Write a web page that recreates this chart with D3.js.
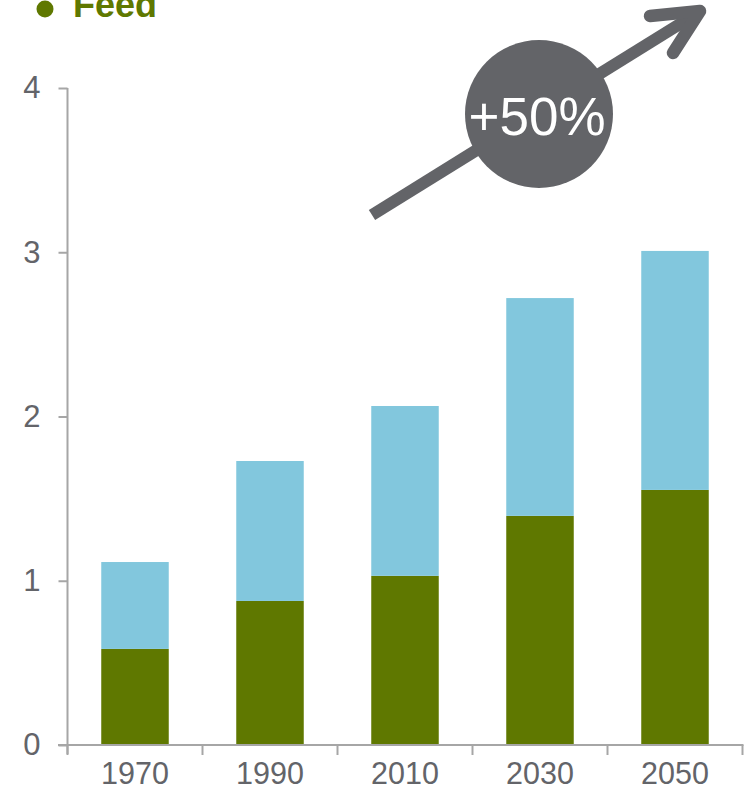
<!DOCTYPE html>
<html>
<head>
<meta charset="utf-8">
<script src="https://cdn.jsdelivr.net/npm/d3@7/dist/d3.min.js"></script>
<style>
  html, body { margin: 0; padding: 0; background: #ffffff; }
  svg { display: block; font-family: "Liberation Sans", Arial, sans-serif; }
</style>
</head>
<body>
<svg id="chart" width="748" height="790"></svg>
<script>
// ---- Data ----
const years = ["1970", "1990", "2010", "2030", "2050"];
const feed  = [0.585, 0.877, 1.03, 1.395, 1.553];
const food  = [0.529, 0.852, 1.034, 1.326, 1.455];
const seriesNames = ["Feed", "Food"];
const seriesColors = ["#5f7800", "#82c7dd"];
const yTicks = [0, 1, 2, 3, 4];
const annotationText = "+50%";

// ---- Layout ----
const svg = d3.select("#chart");
const axisColor = "#a6a6a6";
const textColor = "#636469";
const arrowColor = "#636468";

const x = d3.scaleBand().domain(years).range([67.5, 742.5]).paddingInner(0.5).paddingOuter(0.25);
const y = d3.scaleLinear().domain([0, 4]).range([745, 88]);

const rows = years.map((yr, i) => ({ year: yr, Feed: feed[i], Food: food[i] }));
const stacked = d3.stack().keys(seriesNames)(rows);

// Bars
svg.append("g").selectAll("g").data(stacked).join("g")
  .attr("fill", (d, i) => seriesColors[i])
  .selectAll("rect").data(d => d).join("rect")
  .attr("x", d => x(d.data.year))
  .attr("width", x.bandwidth())
  .attr("y", d => y(d[1]))
  .attr("height", d => y(d[0]) - y(d[1]));

// Y axis
const yAxis = svg.append("g").attr("transform", "translate(67.5,0)")
  .call(d3.axisLeft(y).tickValues(yTicks).tickSize(9).tickPadding(18).tickFormat(d3.format("d")));
yAxis.select(".domain").remove();
yAxis.append("line").attr("x1", 0).attr("x2", 0).attr("y1", y(4)).attr("y2", 754)
  .attr("stroke", axisColor).attr("stroke-width", 2);
yAxis.selectAll(".tick line").attr("stroke", axisColor).attr("stroke-width", 2);
yAxis.selectAll(".tick text").attr("fill", textColor).attr("font-size", 31)
  .attr("font-family", "Liberation Sans, Arial, sans-serif");

// X axis
const xg = svg.append("g");
xg.append("line").attr("x1", 58).attr("x2", 743.5).attr("y1", 745).attr("y2", 745)
  .attr("stroke", axisColor).attr("stroke-width", 2);
const bounds = years.map(d => x(d) - x.step() * 0.25).concat([x(years[years.length - 1]) + x.bandwidth() + x.step() * 0.25]);
xg.selectAll("line.xt").data(bounds).join("line").attr("class", "xt")
  .attr("x1", d => d).attr("x2", d => d).attr("y1", 745).attr("y2", 755)
  .attr("stroke", axisColor).attr("stroke-width", 2);
xg.selectAll("text").data(years).join("text")
  .attr("x", d => x(d) + x.bandwidth() / 2).attr("y", 784)
  .attr("text-anchor", "middle").attr("fill", textColor).attr("font-size", 30.5)
  .text(d => d);

// Legend (partially cropped at top, as in the reference)
svg.append("circle").attr("cx", 45).attr("cy", 9).attr("r", 8.5).attr("fill", seriesColors[0]);
svg.append("text").attr("x", 73).attr("y", 17).attr("font-size", 36).attr("font-weight", "bold")
  .attr("fill", seriesColors[0]).text(seriesNames[0]);

// Growth arrow annotation
const ann = svg.append("g");
ann.append("line").attr("x1", 372).attr("y1", 215).attr("x2", 696).attr("y2", 14)
  .attr("stroke", arrowColor).attr("stroke-width", 12);
ann.append("path").attr("d", "M650,16 L700,11 L673,53")
  .attr("fill", "none").attr("stroke", arrowColor).attr("stroke-width", 12.5)
  .attr("stroke-linecap", "round").attr("stroke-linejoin", "round");
ann.append("circle").attr("cx", 539).attr("cy", 114).attr("r", 74).attr("fill", arrowColor);
ann.append("text").attr("x", 537).attr("y", 135).attr("text-anchor", "middle")
  .attr("font-size", 53).attr("fill", "#ffffff").text(annotationText);
</script>
</body>
</html>
